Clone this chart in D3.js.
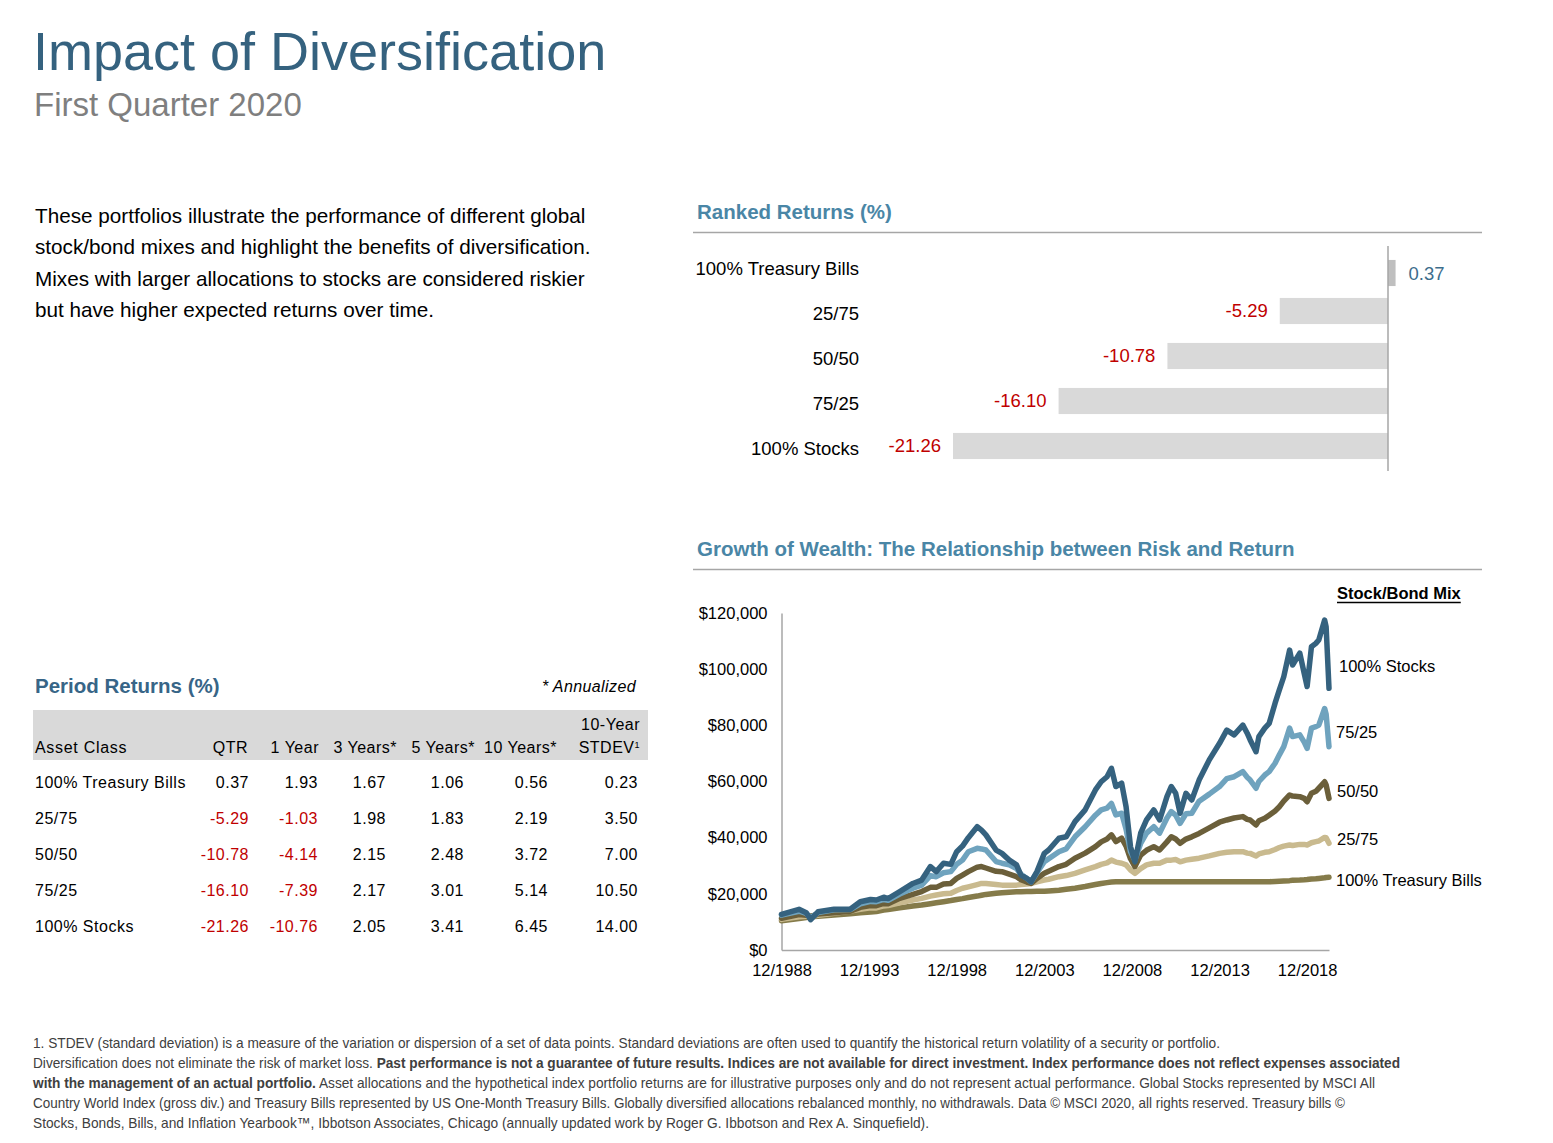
<!DOCTYPE html>
<html><head><meta charset="utf-8">
<script src="https://cdn.jsdelivr.net/npm/d3@7"></script>
<style>
body{margin:0;background:#fff}
svg{display:block;font-family:"Liberation Sans",Arial,Helvetica,sans-serif}
</style></head>
<body><svg id="c" width="1553" height="1143"></svg>
<script>
// ---------------- DATA ----------------
const titleText = "Impact of Diversification";
const subtitleText = "First Quarter 2020";
const introLines = [
  "These portfolios illustrate the performance of different global",
  "stock/bond mixes and highlight the benefits of diversification.",
  "Mixes with larger allocations to stocks are considered riskier",
  "but have higher expected returns over time."
];

// Ranked returns (QTR, %)
const rankedLabels = ["100% Treasury Bills", "25/75", "50/50", "75/25", "100% Stocks"];
const rankedValues = [0.37, -5.29, -10.78, -16.10, -21.26];

// Period returns table
const tableHeaders = ["QTR", "1 Year", "3 Years*", "5 Years*", "10 Years*", "STDEV"];
const assetClasses = ["100% Treasury Bills", "25/75", "50/50", "75/25", "100% Stocks"];
const qtr        = [0.37, -5.29, -10.78, -16.10, -21.26];
const oneYear    = [1.93, -1.03, -4.14, -7.39, -10.76];
const threeYears = [1.67, 1.98, 2.15, 2.17, 2.05];
const fiveYears  = [1.06, 1.83, 2.48, 3.01, 3.41];
const tenYears   = [0.56, 2.19, 3.72, 5.14, 6.45];
const stdev10    = [0.23, 3.50, 7.00, 10.50, 14.00];

const dates = ["1988-12","1989-12","1990-05","1990-08","1991-01","1991-12","1992-11","1993-06","1994-01","1994-05",
"1994-10","1995-01","1995-09","1996-06","1996-12","1997-06","1997-10","1998-03","1998-08","1998-12",
"1999-04","1999-08","2000-02","2000-05","2000-08","2001-03","2001-07","2001-12","2002-05","2002-08",
"2002-12","2003-03","2003-07","2003-12","2004-03","2004-10","2005-03","2005-09","2006-04","2006-11",
"2007-03","2007-07","2007-10","2008-01","2008-05","2008-08","2008-11","2009-02","2009-06","2009-10",
"2010-03","2010-07","2010-12","2011-03","2011-06","2011-09","2012-01","2012-05","2012-10","2013-05",
"2013-12","2014-05","2014-10","2015-04","2015-07","2015-09","2016-01","2016-03","2016-07","2016-10",
"2017-02","2017-05","2017-08","2017-12","2018-02","2018-07","2018-10","2018-12","2019-03","2019-06",
"2019-08","2019-12","2020-01","2020-03"];
const stocks100 = [12.7,14.5,13.3,10.8,13.6,14.5,14.5,17.2,18.0,17.8,
18.8,18.3,20.8,23.7,24.9,29.7,27.9,30.9,30.5,35.0,
37.0,40.0,43.9,42.7,41.0,35.6,34.4,32.0,30.3,26.7,
25.5,24.3,27.9,34.4,35.6,39.8,40.3,45.7,49.9,57.0,
59.9,61.7,64.7,58.2,59.4,51.0,36.8,31.4,41.6,46.3,
49.9,46.3,54.6,58.2,55.8,48.7,55.8,53.4,60.5,67.7,
73.6,78.3,76.6,80.1,77.2,74.8,70.6,76.0,79.0,80.7,
87.9,92.6,97.3,106.8,101.5,105.7,98.5,93.8,108.0,109.2,
110.4,117.5,115.1,93.2];
const mix7525 = [12.4,13.8,13.0,11.5,13.3,14.3,14.4,16.4,17.3,17.2,
18.0,17.7,19.9,22.0,23.1,26.5,26.1,27.5,27.9,30.5,
32.0,35.0,36.2,36.0,35.6,31.5,30.9,30.3,29.0,27.0,
25.5,24.3,27.5,31.4,32.5,35.0,36.0,40.3,43.9,48.0,
49.9,50.5,52.2,48.1,48.7,43.0,35.0,32.0,38.0,41.6,
43.9,41.6,47.0,49.3,48.0,45.1,48.5,48.7,53.0,55.5,
58.2,61.0,61.7,63.5,61.5,60.5,57.6,60.0,62.3,63.5,
66.5,69.5,72.4,79.0,76.0,76.6,74.0,71.8,79.0,79.5,
80.1,86.0,84.0,72.4];
const mix5050 = [11.3,12.6,12.4,12.0,12.8,13.3,13.8,15.2,15.8,15.8,
16.6,16.5,18.4,19.8,20.8,22.3,22.3,23.5,23.7,25.5,
26.7,27.9,29.5,29.7,29.2,28.0,27.9,27.0,26.1,25.0,
24.2,23.7,25.5,27.3,28.0,29.7,30.5,32.7,34.5,36.8,
38.5,39.5,41.0,38.6,39.8,37.0,32.5,29.7,33.8,35.5,
36.8,35.6,38.5,40.3,39.5,38.0,39.5,40.3,41.5,43.5,
45.5,46.3,47.0,47.5,46.5,46.3,44.5,46.0,46.9,48.0,
49.5,51.0,53.0,55.2,54.8,54.6,54.0,52.8,55.8,56.5,
57.6,59.9,58.8,54.0];
const mix2575 = [10.9,11.8,12.0,12.0,12.4,13.1,13.9,14.5,15.0,15.0,
15.7,15.8,16.8,17.8,18.4,19.2,19.6,20.0,20.2,21.2,
22.0,22.5,23.3,23.7,23.7,23.3,23.1,23.1,23.1,23.3,
23.5,23.7,24.3,24.9,25.2,26.1,26.5,27.3,28.5,29.7,
30.5,31.0,32.0,31.3,30.9,30.3,28.5,27.3,29.0,30.3,
30.9,30.9,32.0,32.0,32.2,31.4,32.0,32.3,32.7,33.5,
34.4,34.8,35.0,35.0,34.5,34.4,33.5,34.2,34.8,35.0,
35.8,36.5,37.0,37.4,37.2,37.6,37.6,37.4,38.2,38.6,
38.8,40.1,40.0,38.0];
const tbills100 = [10.4,11.2,11.6,11.8,12.0,12.5,12.9,13.3,13.5,13.7,
14.2,14.4,15.0,15.7,16.0,16.5,16.8,17.2,17.6,18.0,
18.3,18.7,19.2,19.5,19.8,20.2,20.4,20.6,20.7,20.7,
20.8,20.8,20.9,20.9,21.0,21.3,21.6,22.0,22.6,23.3,
23.7,24.0,24.2,24.3,24.3,24.3,24.3,24.3,24.3,24.3,
24.3,24.3,24.3,24.3,24.3,24.3,24.3,24.3,24.3,24.3,
24.3,24.3,24.3,24.3,24.3,24.3,24.3,24.3,24.3,24.3,
24.4,24.5,24.6,24.7,24.8,24.9,25.0,25.1,25.3,25.4,
25.5,25.7,25.8,25.9];
const seriesNames = ["100% Treasury Bills", "25/75", "50/50", "75/25", "100% Stocks"];
const yTickValues = [0, 20, 40, 60, 80, 100, 120];
const xTickLabels = ["12/1988","12/1993","12/1998","12/2003","12/2008","12/2013","12/2018"];
const xEnd = "2020-03";

const footnotes = [
  [{t:"1. STDEV (standard deviation) is a measure of the variation or dispersion of a set of data points. Standard deviations are often used to quantify the historical return volatility of a security or portfolio."}],
  [{t:"Diversification does not eliminate the risk of market loss. "},{t:"Past performance is not a guarantee of future results. Indices are not available for direct investment. Index performance does not reflect expenses associated",b:1}],
  [{t:"with the management of an actual portfolio.",b:1},{t:" Asset allocations and the hypothetical index portfolio returns are for illustrative purposes only and do not represent actual performance. Global Stocks represented by MSCI All"}],
  [{t:"Country World Index (gross div.) and Treasury Bills represented by US One-Month Treasury Bills. Globally diversified allocations rebalanced monthly, no withdrawals. Data \u00A9 MSCI 2020, all rights reserved. Treasury bills \u00A9"}],
  [{t:"Stocks, Bonds, Bills, and Inflation Yearbook\u2122, Ibbotson Associates, Chicago (annually updated work by Roger G. Ibbotson and Rex A. Sinquefield)."}]
];

// ---------------- DRAW ----------------
const svg = d3.select("#c");
const BLUE_DARK = "#35627F", BLUE_MID = "#4A86A6", RED = "#C00000", GRID = "#A6A6A6";

svg.append("text").attr("x", 33).attr("y", 70).attr("font-size", 54).attr("fill", BLUE_DARK).text(titleText);
svg.append("text").attr("x", 34).attr("y", 116).attr("font-size", 33).attr("fill", "#7F7F7F").text(subtitleText);

svg.selectAll("text.intro").data(introLines).join("text").attr("class", "intro")
  .attr("x", 35).attr("y", (d, i) => 223 + i * 31.3).attr("font-size", 20.7).attr("fill", "#000").text(d => d);

// ---- Ranked Returns ----
svg.append("text").attr("x", 697).attr("y", 219).attr("font-size", 20.5).attr("font-weight", "bold")
  .attr("fill", BLUE_MID).text("Ranked Returns (%)");
svg.append("line").attr("x1", 693).attr("x2", 1482).attr("y1", 232.5).attr("y2", 232.5).attr("stroke", GRID).attr("stroke-width", 1.3);

const xb = d3.scaleLinear().domain([d3.min(rankedValues), 0]).range([953, 1388]);
const yb = d3.scaleBand().domain(rankedLabels).range([243.5, 468.5]).paddingInner(0.42).paddingOuter(0.21);

svg.selectAll("rect.rb").data(rankedValues).join("rect").attr("class", "rb")
  .attr("x", d => xb(Math.min(0, d))).attr("width", d => Math.abs(xb(d) - xb(0)))
  .attr("y", (d, i) => yb(rankedLabels[i]) + (d >= 0 ? 7 : 0)).attr("height", yb.bandwidth())
  .attr("fill", d => d >= 0 ? "#BFBFBF" : "#D9D9D9");
svg.append("line").attr("x1", xb(0)).attr("x2", xb(0)).attr("y1", 246).attr("y2", 471).attr("stroke", GRID).attr("stroke-width", 1.5);
svg.selectAll("text.rl").data(rankedLabels).join("text").attr("class", "rl")
  .attr("x", 859).attr("y", d => yb(d) + yb.bandwidth() / 2 + 8.5).attr("text-anchor", "end")
  .attr("font-size", 18.5).attr("fill", "#000").text(d => d);
svg.selectAll("text.rv").data(rankedValues).join("text").attr("class", "rv")
  .attr("x", d => d >= 0 ? xb(d) + 13 : xb(d) - 12)
  .attr("y", (d, i) => yb(rankedLabels[i]) + yb.bandwidth() / 2 + (d >= 0 ? 13.5 : 6))
  .attr("text-anchor", d => d >= 0 ? "start" : "end").attr("font-size", 18.5)
  .attr("fill", d => d >= 0 ? "#3D6D8C" : RED).text(d => d.toFixed(2));

// ---- Period Returns table ----
svg.append("text").attr("x", 35).attr("y", 693).attr("font-size", 20.5).attr("font-weight", "bold")
  .attr("fill", "#376587").text("Period Returns (%)");
svg.append("text").attr("x", 636).attr("y", 692).attr("text-anchor", "end").attr("font-size", 16)
  .attr("font-style", "italic").attr("letter-spacing", 0.4).attr("fill", "#000").text("* Annualized");
svg.append("rect").attr("x", 33).attr("y", 710).attr("width", 615).attr("height", 50).attr("fill", "#D9D9D9");
const headRight = [248, 319, 397, 475, 557, 640];
const valRight = [249, 318, 386, 464, 548, 638];
const cols = [qtr, oneYear, threeYears, fiveYears, tenYears, stdev10];
const tf = 16, ls = 0.5;
svg.append("text").attr("x", 35).attr("y", 753).attr("font-size", tf).attr("letter-spacing", 0.7).text("Asset Class");
tableHeaders.forEach((h, j) => {
  const t = svg.append("text").attr("x", headRight[j]).attr("y", 753).attr("text-anchor", "end")
    .attr("font-size", tf).attr("letter-spacing", ls).text(h);
  if (h === "STDEV") t.append("tspan").attr("font-size", 9).attr("dy", -5).text("1");
});
svg.append("text").attr("x", 640).attr("y", 730).attr("text-anchor", "end").attr("font-size", tf).attr("letter-spacing", ls).text("10-Year");
assetClasses.forEach((a, i) => {
  const y = 788 + i * 36;
  svg.append("text").attr("x", 35).attr("y", y).attr("font-size", tf).attr("letter-spacing", ls).text(a);
  cols.forEach((c, j) => {
    svg.append("text").attr("x", valRight[j]).attr("y", y).attr("text-anchor", "end")
      .attr("font-size", tf).attr("letter-spacing", ls).attr("fill", c[i] < 0 ? RED : "#000").text(c[i].toFixed(2));
  });
});

// ---- Growth of Wealth ----
svg.append("text").attr("x", 697).attr("y", 556).attr("font-size", 20.5).attr("font-weight", "bold")
  .attr("fill", BLUE_MID).text("Growth of Wealth: The Relationship between Risk and Return");
svg.append("line").attr("x1", 693).attr("x2", 1482).attr("y1", 569.5).attr("y2", 569.5).attr("stroke", GRID).attr("stroke-width", 1.3);

const parseYM = d3.timeParse("%Y-%m");
const parseTick = d3.timeParse("%m/%Y");
const dts = dates.map(parseYM);
const x = d3.scaleTime().domain([parseTick(xTickLabels[0]), parseYM(xEnd)]).range([781.5, 1329]);
const y = d3.scaleLinear().domain([0, 120]).range([950, 613]);

const yAxis = svg.append("g").attr("transform", "translate(781.5,0)")
  .call(d3.axisLeft(y).tickValues(yTickValues).tickSize(0).tickSizeOuter(0).tickPadding(14)
    .tickFormat(d => "$" + d3.format(",")(d * 1000)));
const xAxis = svg.append("g").attr("transform", "translate(0,950)")
  .call(d3.axisBottom(x).tickValues(xTickLabels.map(parseTick)).tickSize(0).tickSizeOuter(0).tickPadding(14)
    .tickFormat(d3.timeFormat("%m/%Y")));
[yAxis, xAxis].forEach(g => {
  g.select(".domain").attr("stroke", GRID).attr("stroke-width", 1.5);
  g.selectAll("text").attr("font-size", 16.5).attr("fill", "#000")
    .attr("font-family", '"Liberation Sans",Arial,sans-serif');
});

const seriesVals = [tbills100, mix2575, mix5050, mix7525, stocks100];
const seriesColors = ["#857B4A", "#C9BA8F", "#6B5F3A", "#6FA3BE", "#35627F"];
const line = d3.line().x((d, i) => x(dts[i])).y(d => y(d));
svg.selectAll("path.s").data(seriesVals).join("path").attr("class", "s")
  .attr("d", d => line(d)).attr("fill", "none").attr("stroke", (d, i) => seriesColors[i])
  .attr("stroke-width", 5.5).attr("stroke-linejoin", "round").attr("stroke-linecap", "round");

const labelY = [886, 845, 797, 738, 672];
const labelX = [1336, 1337, 1337, 1336, 1339];
seriesNames.forEach((n, i) => {
  svg.append("text").attr("x", labelX[i]).attr("y", labelY[i]).attr("font-size", 16.5).attr("fill", "#000").text(n);
});
const leg = svg.append("text").attr("x", 1337).attr("y", 599).attr("font-size", 16.5).attr("font-weight", "bold").text("Stock/Bond Mix");
const lw = leg.node().getComputedTextLength();
svg.append("line").attr("x1", 1337).attr("x2", 1337 + lw).attr("y1", 602.5).attr("y2", 602.5).attr("stroke", "#000").attr("stroke-width", 1.3);

// ---- Footnotes ----
const fnWidths = [1187, 1367, 1342, 1312, 896];
footnotes.forEach((segs, i) => {
  const t = svg.append("text").attr("x", 33).attr("y", 1048 + i * 20).attr("font-size", 14.5)
    .attr("fill", "#404040").attr("textLength", fnWidths[i]).attr("lengthAdjust", "spacingAndGlyphs")
    .style("font-family", '"Liberation Sans Narrow","Arial Narrow","Liberation Sans",Arial,sans-serif');
  segs.forEach(s => t.append("tspan").attr("font-weight", s.b ? "bold" : "normal").text(s.t));
});
</script></body></html>
